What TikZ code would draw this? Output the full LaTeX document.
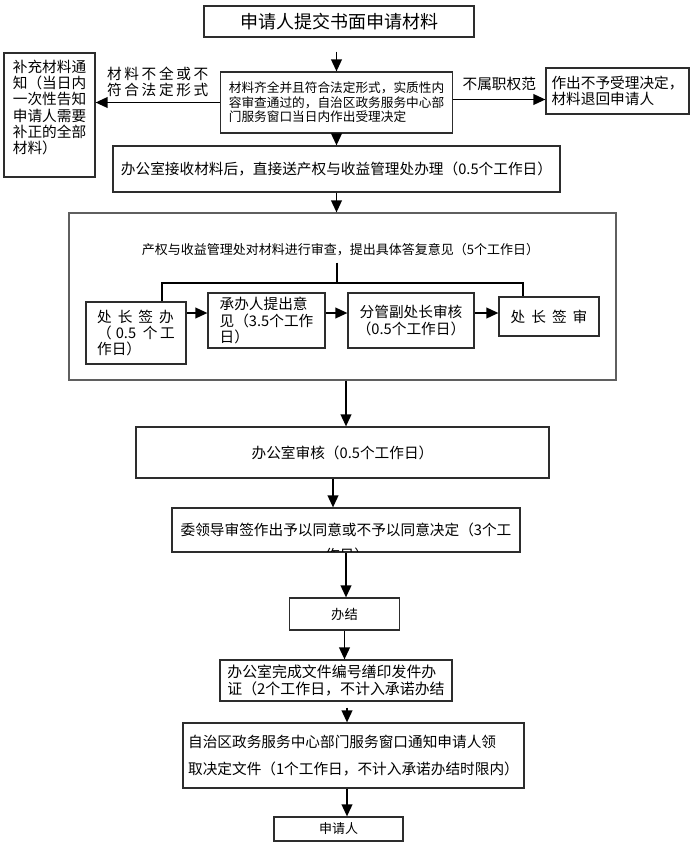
\documentclass[tikz,border=0pt]{standalone}
\usepackage{fontspec}
\setmainfont{Noto Sans CJK SC}
\usepackage{tikz}
\usetikzlibrary{arrows.meta,positioning,calc}
\definecolor{boxline}{RGB}{45,45,45}
\definecolor{outerline}{RGB}{95,95,95}
\newdimen\px \px=0.75pt
\newcommand{\fsz}[2]{\fontsize{#1}{#2}\selectfont}
\newcommand{\ksp}{\hspace{2pt}}

\begin{document}
\begin{tikzpicture}[x=0.75pt, y=-0.75pt,
box/.style={draw=boxline, line width=0.9pt, fill=white, inner sep=0pt,
align=center, font=\fsz{11}{12.2}},
lbl/.style={inner sep=0pt, align=left, font=\fsz{11}{12}},
arrow/.style={-{Triangle[length=9pt, width=8pt]}, line width=1.3pt},
link/.style={line width=0.8pt}
]
\fill[white] (0,0) rectangle (697,856);
\useasboundingbox (0,0) rectangle (697,856);

% application and first check
\node[box, minimum width=270\px, minimum height=31\px, font=\fsz{13.5}{16}] (apply) at (339,21.5) {申请人提交书面申请材料};
\node[box, minimum width=232\px, minimum height=61\px, align=left, font=\fsz{9.5}{10.9}] (check) at (336.5,102.5)
{材料齐全并且符合法定形式，实质性内\\容审查通过的，自治区政务服务中心部\\门服务窗口当日内作出受理决定};
\node[box, minimum width=91\px, minimum height=124\px, align=left] (notice) at (49.5,115)
{补充材料通\\知（当日内\\一次性告知\\申请人需要\\补正的全部\\材料）\\\mbox{}};
\node[box, minimum width=143\px, minimum height=46\px, align=left, font=\fsz{11}{11.5}] (reject) at (617.5,91)
{作出不予受理决定，\\材料退回申请人};

\draw[arrow] ([yshift=-14\px]apply.south -| check.north) -- (check.north);
\draw[arrow] (check.west) -- (check.west -| notice.east)
node[lbl, midway, above=5\px] (lackLbl) {材\ksp 料\ksp 不\ksp 全\ksp 或\ksp 不\\符\ksp 合\ksp 法\ksp 定\ksp 形\ksp 式};
\draw[arrow] ([yshift=3\px]check.east) -- ([yshift=3\px]check.east -| reject.west)
node[lbl, midway, above=8\px] (outLbl) {不属职权范};

% office receives
\node[box, minimum width=447\px, minimum height=46\px] (recv) at (336.5,169)
{办公室接收材料后，直接送产权与收益管理处办理（0.5个工作日）};
\draw[arrow] (check.south) -- (check.south |- recv.north);

% review by the department
\node[box, draw=outerline, minimum width=547\px, minimum height=167\px] (review) at (342.5,296.5) {};
\draw[arrow] (recv.south) -- (recv.south |- review.north);
\node[lbl, inner ysep=6\px, font=\fsz{9.75}{12}] (revTxt) at (340.5,250)
{产权与收益管理处对材料进行审查，提出具体答复意见（5个工作日）};
\coordinate (fork) at (337,283);

\node[box, minimum width=100\px, minimum height=62\px, align=left] (sign1) at (136,333)
{处\hspace{4.5pt}长\hspace{4.5pt}签\hspace{4.5pt}办\\（\hspace{3pt}0.5\hspace{5pt}个\hspace{2pt}工\\作日）};
\node[box, minimum width=117\px, minimum height=55\px, align=left] (draft) at (266.5,320.5)
{承办人提出意\\见（3.5个工作\\日）};
\node[box, minimum width=126\px, minimum height=55\px] (deputy) at (411,320.5)
{分管副处长审核\\（0.5个工作日）};
\node[box, minimum width=100\px, minimum height=39\px] (sign2) at (549,316.5)
{处\hspace{4.5pt}长\hspace{4.5pt}签\hspace{4.5pt}审};

\draw[link] (revTxt.south -| fork) -- (fork);
\draw[link] ([xshift=26\px]sign1.north) |- (fork) -| ([xshift=-26\px]sign2.north);
\draw[arrow] ([yshift=20\px]sign1.east) -- ([yshift=20\px]sign1.east -| draft.west);
\draw[arrow] ([yshift=7.5\px]draft.east) -- ([yshift=7.5\px]deputy.west);
\draw[arrow] ([yshift=7.5\px]deputy.east) -- ([yshift=7.5\px]deputy.east -| sign2.west);

% office check and decision
\node[box, minimum width=413\px, minimum height=51\px] (office) at (342.5,452.5) {办公室审核（0.5个工作日）};
\draw[arrow] ([xshift=3.5\px]review.south) -- ([xshift=3.5\px]review.south |- office.north);

\node[box, minimum width=348\px, minimum height=44\px] (lead) at (346,530)
{委领导审签作出予以同意或不予以同意决定（3个工};
\begin{scope}
\clip ([shift={(1pt,1pt)}]lead.south west) rectangle ([shift={(-1pt,-1pt)}]lead.north east);
\node[lbl, anchor=base] (leadCut) at (347,560) {作日）};
\end{scope}
\draw[arrow] ([xshift=-9.5\px]office.south) -- ([xshift=-9.5\px]office.south |- lead.north);

% closing steps
\node[box, minimum width=110\px, minimum height=32\px, font=\fsz{10}{12}] (done) at (344.5,614) {办结};
\draw[arrow] (lead.south) -- (lead.south |- done.north);

\node[box, minimum width=232\px, minimum height=41\px, align=left, font=\fsz{11.2}{12.8}] (issue) at (336,680.5)
{办公室完成文件编号缮印发件办\\证（2个工作日，不计入承诺办结};
\draw[arrow] (done.south) -- (done.south |- issue.north);

\node[box, minimum width=341\px, minimum height=65\px, align=left, font=\fsz{11}{20}] (notify) at (353.5,755.5)
{自治区政务服务中心部门服务窗口通知申请人领\\取决定文件（1个工作日，不计入承诺办结时限内）};
\draw[arrow] ([xshift=11\px,yshift=-6\px]issue.south) -- ([xshift=11\px]issue.south |- notify.north);

\node[box, minimum width=129\px, minimum height=24\px, font=\fsz{9.75}{12}] (applicant) at (338.5,829) {申请人};
\draw[arrow] ([xshift=-6.5\px]notify.south) -- ([xshift=-6.5\px]notify.south |- applicant.north);

\end{tikzpicture}
\end{document}
